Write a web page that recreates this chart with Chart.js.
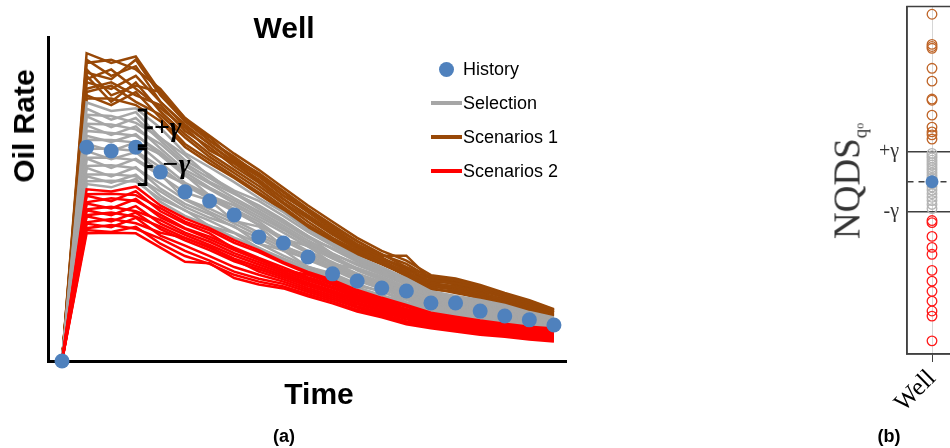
<!DOCTYPE html>
<html>
<head>
<meta charset="utf-8">
<script src="https://cdn.jsdelivr.net/npm/chart.js@4.4.0/dist/chart.umd.min.js"></script>
<style>
html, body { margin: 0; padding: 0; width: 950px; height: 448px; overflow: hidden; background: #fff; }
#wrapA { position: absolute; left: 0; top: 0; width: 580px; height: 448px; }
#wrapB { position: absolute; left: 760px; top: 0; width: 300px; height: 448px; }
.lbl { position: absolute; font-family: 'Liberation Sans', Arial, sans-serif; font-weight: bold; color: #000; white-space: nowrap; line-height: 1; transform: translate(-50%, -50%); }
.rot { transform: translate(-50%, -50%) rotate(-90deg); }
#nqds { position: absolute; font-family: 'Liberation Serif', 'DejaVu Serif', serif; font-size: 37px; color: #333; line-height: 1; white-space: nowrap; }
#nqds .q { font-size: 19px; position: relative; top: 0.35em; }
#nqds .o { font-size: 12px; position: relative; top: 0.35em; }
#legend { position: absolute; left: 431px; top: 59px; }
.item { position: absolute; left: 0; height: 20px; line-height: 20px; white-space: nowrap; font-family: 'Liberation Sans', Arial, sans-serif; font-size: 18px; color: #000; }
.dash { position: absolute; left: 0; top: 8px; width: 31px; height: 3.5px; }
.dot { position: absolute; left: 8px; top: 3px; width: 15px; height: 15px; border-radius: 50%; }
.txt { position: absolute; left: 32px; top: 0; }
</style>
</head>
<body>
<div id="wrapA"><canvas id="rateChart" width="580" height="448"></canvas></div>
<div id="wrapB"><canvas id="nqdsChart" width="300" height="448"></canvas></div>

<div class="lbl" style="left:284px; top:28px; font-size:30px;">Well</div>
<div class="lbl rot" style="left:24px; top:126px; font-size:30px;">Oil Rate</div>
<div class="lbl" style="left:319px; top:394px; font-size:30px;">Time</div>
<div class="lbl" style="left:284px; top:436px; font-size:18px;">(a)</div>
<div class="lbl" style="left:889px; top:436px; font-size:18px;">(b)</div>
<div id="nqds" class="rot" style="left:847px; top:181px;">NQDS<span class="q">q</span><span class="o">o</span></div>
<div id="legend"></div>

<script>
// time steps (x axis, no tick labels in the figure)
const timeSteps = [0, 1, 2, 3, 4, 5, 6, 7, 8, 9, 10, 11, 12, 13, 14, 15, 16, 17, 18, 19, 20];

// observed history
const historyRate = [0, 66.0, 64.8, 66.0, 58.3, 52.2, 49.4, 45.1, 38.3, 36.4, 32.1, 26.9, 24.7, 22.5, 21.6, 17.9, 17.9, 15.4, 13.9, 12.7, 11.1];

// runs outside +gamma
const scenarios1 = [
  [0, 95, 92, 94, 83, 74, 68, 62.5, 58, 52.5, 47, 42, 37, 33, 29, 26, 25, 23, 20.5, 18.5, 15.8],
  [0, 92, 93, 90, 84, 75, 69.5, 64, 59, 53.5, 48, 43, 38, 34, 31, 26.5, 25.5, 23.5, 21, 18.8, 16],
  [0, 89, 87, 93, 82, 74, 69, 62, 57, 51, 46, 41, 36, 32.5, 32.5, 25, 24, 22.5, 20, 18, 15.2],
  [0, 86, 84, 88, 80, 73, 67, 61, 56, 50, 45, 40, 35.5, 31.5, 29, 24.5, 24, 22, 19.5, 17.5, 15],
  [0, 90, 82, 85, 83, 75, 68, 63, 57.5, 52, 46, 40.5, 36, 32, 28, 25.5, 23.5, 21.5, 19.8, 17.8, 15.5],
  [0, 84, 86, 82, 79, 71, 66, 60, 55, 49, 44, 39, 34.5, 31, 27.5, 24, 23, 21, 19, 17, 14.8],
  [0, 88, 80, 86, 77, 70, 64, 59, 54, 48.5, 43, 38, 34, 30.5, 27, 23.5, 22.5, 20.5, 18.5, 16.5, 14.5],
  [0, 83, 85, 80, 76, 69, 63, 58, 53, 47.5, 42, 37.5, 33.5, 30, 26.5, 23, 22, 20, 18, 16.2, 14.2],
  [0, 82, 79, 83, 75, 67, 62, 57, 52, 47, 41.5, 37, 33, 30.5, 26, 22.5, 21, 19.5, 17.8, 16, 14],
  [0, 81, 81, 79, 74, 66, 61, 56.5, 51.5, 46.5, 41, 36.5, 32.8, 29.8, 26.5, 22, 21.5, 19.2, 17.5, 15.6, 13.8],
  [0, 87, 90, 84, 78, 72, 65, 61, 55.5, 50, 44.5, 39.5, 35, 31.5, 28.5, 24, 23, 21, 18.8, 17, 15],
  [0, 93, 88, 91, 80, 72.5, 67, 61.5, 57, 51, 46.5, 41.5, 37, 32.8, 30, 25.5, 24.5, 22.8, 20.2, 18.2, 15.6]
];

// runs inside the +/- gamma band
const selection = [
  [0, 79.8, 77.2, 78.0, 71.9, 64.2, 59.8, 55.2, 50.3, 45.9, 40.5, 36.2, 32.2, 29.0, 25.5, 21.5, 20.1, 18.8, 17.3, 15.1, 13.4],
  [0, 77.9, 74.5, 76.8, 68.8, 63.6, 57.0, 52.6, 49.4, 44.8, 39.8, 35.6, 31.6, 28.4, 25.0, 21.2, 19.6, 18.3, 16.9, 14.8, 13.2],
  [0, 76.0, 75.6, 73.5, 69.0, 62.0, 57.5, 51.8, 47.0, 42.6, 38.0, 34.8, 31.2, 28.0, 24.6, 20.8, 19.3, 18.0, 16.6, 14.6, 13.0],
  [0, 75.5, 72.2, 75.0, 68.0, 61.0, 56.4, 52.0, 47.8, 43.2, 38.6, 34.5, 30.6, 27.6, 24.3, 20.5, 19.0, 17.8, 16.3, 14.4, 12.9],
  [0, 73.2, 73.0, 71.5, 67.0, 60.3, 55.3, 51.6, 48.0, 43.6, 38.5, 33.0, 30.0, 27.0, 23.9, 20.1, 18.7, 17.4, 16.0, 14.2, 12.7],
  [0, 72.7, 69.8, 72.4, 65.6, 59.0, 54.8, 50.3, 46.2, 41.8, 37.2, 33.2, 29.6, 26.7, 23.5, 19.9, 18.5, 17.2, 15.8, 14.0, 12.5],
  [0, 71.0, 70.4, 69.5, 64.5, 58.2, 53.5, 49.6, 45.4, 41.0, 36.5, 32.7, 28.0, 25.0, 22.0, 19.0, 18.2, 16.9, 15.6, 13.8, 12.4],
  [0, 69.5, 67.6, 70.0, 63.5, 57.2, 53.0, 48.7, 44.6, 40.5, 36.0, 32.2, 28.7, 26.0, 22.8, 19.3, 17.9, 16.7, 15.4, 13.6, 12.3],
  [0, 68.3, 68.2, 67.4, 63.8, 57.5, 51.0, 48.0, 43.8, 39.6, 35.3, 31.6, 28.1, 25.4, 22.4, 19.0, 17.6, 16.4, 15.1, 13.4, 12.1],
  [0, 67.0, 64.8, 67.5, 61.2, 55.0, 51.2, 46.9, 43.0, 37.6, 35.5, 30.0, 28.4, 24.9, 22.0, 18.6, 17.3, 16.0, 14.8, 13.2, 12.0],
  [0, 65.4, 65.6, 64.8, 59.8, 54.2, 50.0, 46.2, 42.1, 38.1, 33.9, 30.5, 27.0, 24.3, 21.5, 18.2, 16.9, 15.7, 14.5, 12.9, 11.8],
  [0, 64.8, 62.3, 64.5, 58.3, 54.6, 50.6, 46.4, 42.0, 37.2, 33.3, 29.9, 26.4, 23.8, 21.1, 17.9, 16.6, 15.5, 14.2, 12.7, 11.6],
  [0, 62.7, 62.8, 62.0, 57.2, 52.0, 49.6, 43.2, 41.5, 35.4, 32.6, 29.3, 25.9, 23.3, 20.6, 17.5, 16.2, 15.1, 13.9, 12.5, 11.5],
  [0, 62.5, 59.6, 62.4, 57.6, 50.0, 47.0, 43.4, 39.6, 35.6, 32.0, 28.7, 25.3, 22.8, 20.2, 17.2, 15.9, 14.8, 13.6, 12.3, 11.3],
  [0, 60.2, 60.4, 59.5, 54.8, 49.8, 46.0, 42.5, 38.7, 34.9, 31.2, 28.2, 24.8, 22.3, 19.8, 16.9, 15.6, 14.4, 13.3, 12.1, 11.2],
  [0, 59.6, 57.0, 59.8, 53.2, 48.5, 45.3, 41.3, 37.9, 34.0, 31.6, 28.6, 25.1, 22.3, 19.3, 16.5, 15.2, 14.0, 13.0, 11.9, 11.0],
  [0, 57.6, 57.6, 57.0, 52.3, 47.6, 44.2, 41.6, 36.2, 34.2, 29.0, 27.0, 23.8, 21.3, 18.9, 16.1, 14.9, 13.7, 12.7, 11.7, 10.8],
  [0, 57.0, 55.0, 57.5, 51.0, 46.4, 43.3, 39.6, 36.3, 32.5, 29.1, 26.5, 23.2, 21.6, 18.0, 16.4, 14.4, 13.4, 12.4, 11.4, 10.6],
  [0, 55.5, 55.6, 55.4, 50.0, 46.6, 41.6, 39.5, 34.8, 31.7, 28.5, 25.9, 22.7, 20.3, 18.1, 15.5, 14.3, 13.1, 12.1, 11.1, 10.4],
  [0, 54.6, 53.6, 56.2, 49.1, 44.8, 41.8, 38.1, 35.0, 31.2, 28.1, 25.5, 22.4, 20.0, 17.8, 15.3, 14.1, 12.9, 11.9, 11.0, 10.3]
];

// runs outside -gamma
const scenarios2 = [
  [0, 53.0, 52.3, 53.8, 48.0, 44.0, 41.0, 37.3, 34.2, 30.5, 27.5, 25.0, 21.9, 19.5, 17.3, 14.9, 13.7, 12.5, 11.5, 10.6, 10.0],
  [0, 51.5, 51.6, 51.2, 47.2, 43.0, 40.3, 36.5, 33.6, 30.1, 27.0, 24.5, 21.5, 19.2, 17.0, 14.6, 13.4, 12.2, 11.2, 10.3, 9.7],
  [0, 51.0, 49.3, 52.4, 46.2, 42.4, 39.4, 34.6, 31.4, 28.0, 26.6, 24.0, 21.0, 18.7, 16.7, 14.2, 13.1, 11.9, 10.9, 10.1, 9.5],
  [0, 49.0, 50.2, 49.4, 45.2, 41.0, 38.4, 35.0, 31.8, 28.9, 25.9, 23.5, 20.4, 18.3, 16.1, 13.9, 12.7, 11.6, 10.7, 9.8, 9.2],
  [0, 48.6, 47.1, 50.0, 44.3, 40.8, 37.6, 34.2, 31.2, 28.2, 25.4, 22.9, 20.0, 17.8, 15.7, 13.5, 12.4, 11.3, 10.4, 9.5, 8.9],
  [0, 46.8, 47.6, 46.2, 43.5, 39.6, 36.8, 33.3, 30.5, 27.6, 24.8, 22.4, 19.5, 17.3, 15.3, 13.1, 12.0, 11.0, 10.1, 9.2, 8.6],
  [0, 46.5, 45.0, 47.8, 42.4, 38.9, 35.8, 32.5, 29.8, 27.0, 24.2, 21.8, 19.0, 16.9, 14.8, 12.8, 11.7, 10.6, 9.8, 8.9, 8.3],
  [0, 45.0, 45.8, 44.5, 41.5, 38.0, 35.1, 31.6, 29.0, 26.4, 23.7, 21.3, 18.6, 16.5, 14.4, 12.4, 11.4, 10.3, 9.5, 8.6, 8.0],
  [0, 44.7, 43.1, 45.8, 40.7, 37.2, 34.2, 30.8, 28.3, 25.8, 23.1, 20.8, 18.0, 16.0, 13.9, 12.0, 11.0, 10.0, 9.2, 8.3, 7.7],
  [0, 42.8, 43.8, 42.5, 39.6, 38.0, 35.0, 31.4, 27.6, 25.2, 22.5, 20.2, 17.5, 15.5, 13.4, 11.7, 10.7, 9.6, 8.9, 8.0, 7.4],
  [0, 42.4, 41.3, 44.2, 38.7, 35.6, 32.4, 29.0, 26.6, 24.5, 21.9, 19.6, 16.9, 15.0, 12.9, 11.3, 10.3, 9.3, 8.6, 7.7, 7.1],
  [0, 41.0, 42.0, 40.8, 37.8, 34.0, 31.0, 27.6, 25.4, 23.8, 21.3, 19.0, 16.4, 14.5, 12.3, 10.9, 9.9, 8.9, 8.2, 7.3, 6.7],
  [0, 40.4, 39.8, 41.4, 36.2, 32.4, 30.0, 26.6, 24.5, 23.0, 20.6, 18.4, 15.8, 14.0, 11.8, 10.5, 9.5, 8.5, 7.8, 6.9, 6.3],
  [0, 39.4, 39.6, 39.4, 35.0, 30.6, 30.2, 25.6, 23.6, 22.4, 20.0, 17.8, 15.3, 13.5, 11.3, 10.1, 9.1, 8.1, 7.5, 6.6, 6.0]
];

// gamma band drawn with braces at this time step
const gammaBand = 11.5;
const braceStep = 3;

// panel (b): NQDS of each run, in units of gamma
const wellLabels = ['Well', ''];
const gammaTicks = [-1, 0, 1];
const nqdsScenarios1 = [5.61, 4.6, 4.53, 4.47, 3.8, 3.37, 2.77, 2.73, 2.23, 1.83, 1.67, 1.57, 1.43];
const nqdsSelection = [0.95, 0.87, 0.8, 0.72, 0.64, 0.56, 0.47, 0.39, 0.3, 0.21, 0.12, 0.04, -0.07, -0.17, -0.28, -0.4, -0.52, -0.63, -0.76, -0.9];
const nqdsScenarios2 = [-1.3, -1.37, -1.83, -2.2, -2.43, -2.97, -3.33, -3.67, -4.0, -4.33, -4.5, -5.33];
const nqdsHistory = [0];

const legendNames = ['History', 'Selection', 'Scenarios 1', 'Scenarios 2'];

const historyColor = '#4f81bd';
const selectionColor = '#a6a6a6';
const scen1Color = '#984807';
const scen2Color = '#ff0000';

// ---- panel (a) ----
function runSets(runs, color, name) {
  return runs.map((r, i) => ({
    label: name + ' ' + (i + 1),
    data: r,
    borderColor: color,
    borderWidth: 2.5,
    pointRadius: 0,
    tension: 0,
    fill: false
  }));
}

const braces = {
  id: 'braces',
  afterDatasetsDraw(chart) {
    const c = chart.ctx;
    const xs = chart.scales.x;
    const ys = chart.scales.y;
    const spine = xs.getPixelForValue(braceStep) + 10;
    const mid = ys.getPixelForValue(historyRate[braceStep]);
    const up = ys.getPixelForValue(historyRate[braceStep] + gammaBand);
    const dn = ys.getPixelForValue(historyRate[braceStep] - gammaBand);
    c.save();
    c.strokeStyle = '#000';
    c.lineWidth = 3;
    [[up, mid - 1.5], [mid + 1.5, dn]].forEach(([a, b]) => {
      const m = (a + b) / 2;
      c.beginPath();
      c.moveTo(spine - 8, a);
      c.lineTo(spine, a);
      c.lineTo(spine, b);
      c.lineTo(spine - 8, b);
      c.moveTo(spine, m);
      c.lineTo(spine + 7, m);
      c.stroke();
    });
    c.fillStyle = '#000';
    c.font = 'italic bold 28px "Liberation Serif", serif';
    c.textBaseline = 'middle';
    c.fillText('+γ', spine + 8, (up + mid) / 2);
    c.fillText('−γ', spine + 16, (mid + dn) / 2);
    c.restore();
  }
};

new Chart(document.getElementById('rateChart'), {
  type: 'line',
  data: {
    labels: timeSteps,
    datasets: [{
      label: legendNames[0],
      data: historyRate,
      showLine: false,
      pointRadius: 7.5,
      pointBorderWidth: 0,
      pointBackgroundColor: historyColor,
      clip: false
    }].concat(
      runSets(scenarios2, scen2Color, legendNames[3]),
      runSets(selection, selectionColor, legendNames[1]),
      runSets(scenarios1, scen1Color, legendNames[2])
    )
  },
  options: {
    responsive: false,
    animation: false,
    events: [],
    layout: { padding: { left: 48, top: 37, right: 14, bottom: 87 } },
    plugins: { legend: { display: false }, tooltip: { enabled: false } },
    scales: {
      x: {
        type: 'linear', min: -0.57, max: 20.49,
        ticks: { display: false },
        grid: { display: false, drawTicks: false },
        border: { color: '#000', width: 3 }
      },
      y: {
        min: 0, max: 100,
        ticks: { display: false },
        grid: { display: false, drawTicks: false },
        border: { color: '#000', width: 3 }
      }
    }
  },
  plugins: [braces]
});

// legend for panel (a)
const legendColors = [historyColor, selectionColor, scen1Color, scen2Color];
const legendBox = document.getElementById('legend');
legendNames.forEach((name, i) => {
  const row = document.createElement('div');
  row.className = 'item';
  row.style.top = (i * 34) + 'px';
  const mark = document.createElement('span');
  mark.className = i === 0 ? 'dot' : 'dash';
  mark.style.background = legendColors[i];
  const txt = document.createElement('span');
  txt.className = 'txt';
  txt.textContent = name;
  row.appendChild(mark);
  row.appendChild(txt);
  legendBox.appendChild(row);
});

// ---- panel (b) ----
function strip(vals) {
  return vals.map(v => ({ x: wellLabels[0], y: v }));
}

function circles(vals, color) {
  return {
    data: strip(vals),
    showLine: false,
    pointRadius: 4.8,
    pointBorderWidth: 1.3,
    pointBorderColor: color,
    pointBackgroundColor: 'rgba(0,0,0,0)'
  };
}

const frame = {
  id: 'frame',
  beforeDatasetsDraw(chart) {
    const a = chart.chartArea;
    const c = chart.ctx;
    c.save();
    c.strokeStyle = '#404040';
    c.lineWidth = 1.5;
    c.strokeRect(a.left, a.top, a.right - a.left, a.bottom - a.top);
    c.restore();
  }
};

new Chart(document.getElementById('nqdsChart'), {
  type: 'line',
  data: {
    labels: wellLabels,
    datasets: [
      {
        data: strip(nqdsHistory),
        showLine: false,
        pointRadius: 6.5,
        pointBorderWidth: 0,
        pointBackgroundColor: historyColor
      },
      circles(nqdsSelection, '#b4b4b4'),
      circles(nqdsScenarios1, '#bf6528'),
      circles(nqdsScenarios2, '#ff1a1a')
    ]
  },
  options: {
    responsive: false,
    animation: false,
    events: [],
    layout: { padding: { left: 107, top: 5, right: 53, bottom: 34 } },
    plugins: { legend: { display: false }, tooltip: { enabled: false } },
    scales: {
      x: {
        type: 'category',
        offset: true,
        afterFit: s => { s.height = 60; s.paddingLeft = 0; s.paddingRight = 0; },
        ticks: {
          autoSkip: false, minRotation: 45, maxRotation: 45, padding: 2,
          font: { family: 'Liberation Serif', size: 25 }, color: '#000'
        },
        grid: { color: '#d6d6d6', lineWidth: 1, offset: false, tickColor: '#404040', tickLength: 8 },
        border: { color: '#404040', width: 1.5 }
      },
      y: {
        min: -5.77, max: 5.87,
        afterFit: s => { s.width = 40; s.paddingTop = 0; s.paddingBottom = 0; },
        afterBuildTicks: s => { s.ticks = gammaTicks.map(v => ({ value: v })); },
        ticks: {
          padding: 8,
          font: { family: 'Liberation Serif', size: 20 }, color: '#333',
          callback: v => v === 1 ? '+γ' : (v === -1 ? '-γ' : '')
        },
        grid: { color: '#404040', lineWidth: 1.5, drawTicks: false },
        border: { color: '#404040', width: 1.5, dash: ctx => (ctx.tick && ctx.tick.value === 0) ? [6, 5] : [] }
      }
    }
  },
  plugins: [frame]
});
</script>
</body>
</html>
